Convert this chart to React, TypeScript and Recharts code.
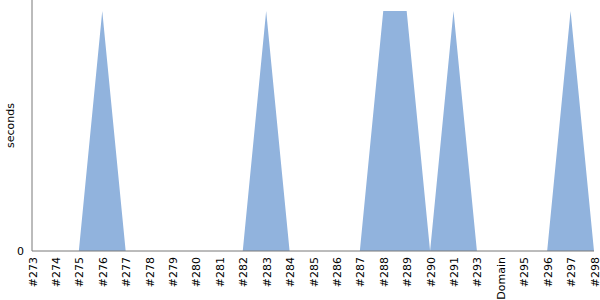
import { Area, AreaChart, XAxis, YAxis, Label } from "recharts";

const builds = [
  "#273", "#274", "#275", "#276", "#277", "#278", "#279", "#280", "#281",
  "#282", "#283", "#284", "#285", "#286", "#287", "#288", "#289", "#290",
  "#291", "#293", "Domain", "#295", "#296", "#297", "#298",
];

const seconds = [
  0, 0, 0, 1, 0, 0, 0, 0, 0, 0, 1, 0, 0, 0, 0, 1, 1, 0, 1, 0, 0, 0, 0, 1, 0,
];

const data = builds.map((name, i) => ({ name, value: seconds[i] }));

const FONT = "DejaVu Sans, sans-serif";
const AXIS = "rgb(120,120,120)";

const RotatedTick = (props: any) => {
  const { x, y, payload } = props;
  return (
    <text
      transform={`translate(${x + 1},${y - 2}) rotate(-90)`}
      textAnchor="end"
      dominantBaseline="central"
      fontSize={11}
      fontFamily={FONT}
      fill="#000"
    >
      {payload.value}
    </text>
  );
};

const App = () => {
  return (
    <div style={{ position: "absolute", left: 0, top: 0 }}>
      <AreaChart
        width={600}
        height={300}
        data={data}
        margin={{ top: 0, right: 6, left: 0, bottom: 0 }}
      >
        <XAxis
          dataKey="name"
          interval={0}
          height={49}
          tickLine={false}
          stroke={AXIS}
          axisLine={{ stroke: AXIS, strokeWidth: 1 }}
          tick={<RotatedTick />}
        />
        <YAxis
          width={32}
          domain={[0, 1.046]}
          ticks={[0]}
          tickLine={false}
          stroke={AXIS}
          axisLine={{ stroke: AXIS, strokeWidth: 1 }}
          tick={{ fill: "#000", fontSize: 11, fontFamily: FONT }}
        >
          <Label
            value="seconds"
            angle={-90}
            position="insideLeft"
            offset={10}
            style={{ fill: "#000", fontSize: 11, fontFamily: FONT, textAnchor: "middle" }}
          />
        </YAxis>
        <Area
          type="linear"
          dataKey="value"
          stroke="none"
          fill="#91b3dd"
          fillOpacity={1}
          isAnimationActive={false}
        />
      </AreaChart>
    </div>
  );
};

export default App;
